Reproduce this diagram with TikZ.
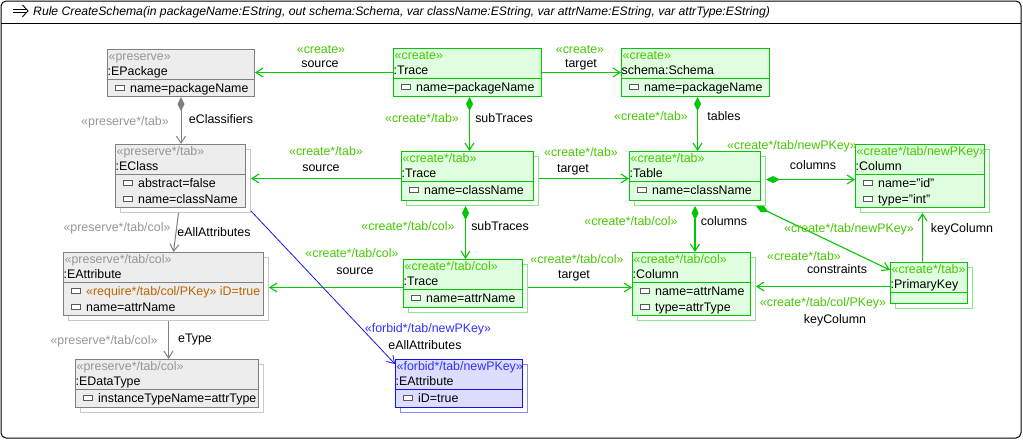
\documentclass[tikz,border=0pt]{standalone}
\usepackage{fontspec}
\setmainfont{Liberation Sans}
\usetikzlibrary{arrows.meta,calc}
\definecolor{gD}{RGB}{0,200,0}
\definecolor{gT}{RGB}{70,200,0}
\definecolor{gF}{RGB}{224,255,224}
\definecolor{gS}{RGB}{140,228,140}
\definecolor{yD}{RGB}{128,128,128}
\definecolor{yT}{RGB}{150,150,150}
\definecolor{yF}{RGB}{237,237,237}
\definecolor{yS}{RGB}{200,200,200}
\definecolor{bD}{RGB}{20,20,230}
\definecolor{bT}{RGB}{50,50,255}
\definecolor{bF}{RGB}{221,221,255}
\definecolor{bS}{RGB}{140,140,255}
\definecolor{reqT}{RGB}{190,100,0}
\newcommand\ushadow[6]{%
  \node[#2shadow, minimum width=#5pt, minimum height=#6pt, anchor=north west] (#1-sh) at (#3+5,#4+5) {};}
\newcommand\ubox[8]{%
  \node[#2box, minimum width=#5pt, minimum height=#6pt, anchor=north west] (#1) at (#3,#4) {};
  \draw[#2sep] ($(#1.north west)+(0,30)$) -- ($(#1.north east)+(0,30)$);
  \node[#2st] (#1-st) at ($(#1.north west)+(1.5,11.5)$) {#7};
  \node[titletext] (#1-ti) at ($(#1.north west)+(0.5,26)$) {#8};}
\newcommand\uattr[4]{%
  \node[icon] (#3-ic) at ($(#1.north west)+(13,#2-4)$) {};
  \node[attrtext] (#3) at ($(#1.north west)+(23,#2)$) {#4};}
\begin{document}
\begin{tikzpicture}[x=1pt,y=-1pt,
  font=\fontsize{12.4}{14}\selectfont,
  boxbase/.style={rectangle, inner sep=0, line width=1pt},
  gbox/.style={boxbase, draw=gD, fill=gF},
  ybox/.style={boxbase, draw=yD, fill=yF},
  bbox/.style={boxbase, draw=bD, fill=bF},
  gshadow/.style={boxbase, draw=gS, fill=white},
  yshadow/.style={boxbase, draw=yS, fill=white},
  bshadow/.style={boxbase, draw=bS, fill=white},
  gsep/.style={draw=gD, line width=1pt},
  ysep/.style={draw=yD, line width=1pt},
  bsep/.style={draw=bD, line width=1pt},
  txt/.style={inner sep=0, anchor=base west},
  gst/.style={txt, text=gT},
  yst/.style={txt, text=yT},
  bst/.style={txt, text=bT},
  titletext/.style={txt, text=black},
  attrtext/.style={txt, text=black},
  icon/.style={rectangle, draw=black!65, fill=white, line width=0.7pt, minimum width=8.5pt, minimum height=4.5pt, inner sep=0},
  lbl/.style={inner sep=0, anchor=base, text=black},
  glbl/.style={lbl, text=gT},
  ylbl/.style={lbl, text=yT},
  blbl/.style={lbl, text=bT},
  openarrow/.style={-{Straight Barb[length=7pt,width=9pt]}},
  gedge/.style={draw=gD, line width=1.1pt, openarrow},
  gcomp/.style={draw=gD, line width=1.1pt, {Diamond[length=14pt,width=7pt]}-{Straight Barb[length=7pt,width=9pt]}},
  yedge/.style={draw=yD, line width=1pt, openarrow},
  ycomp/.style={draw=yD, line width=1pt, {Diamond[length=14pt,width=7pt]}-{Straight Barb[length=7pt,width=9pt]}},
  bedge/.style={draw=bD, line width=0.8pt, openarrow},
  frame/.style={draw=black, line width=1pt}
]
\useasboundingbox (0,0) rectangle (1023,440);
% frame and header
\draw[frame, rounded corners=5pt] (1,1) rectangle (1021,438);
\draw[frame] (1,23) -- (1021,23);
\draw[line width=0.9pt] (13,9.2) -- (27,9.2) (13,12.6) -- (27,12.6);
\draw[line width=0.9pt] (22.5,5) -- (28,10.9) -- (22.5,16.8);
\node[txt, font=\fontsize{12.2}{14}\selectfont\itshape] (hdr) at (33,15) {Rule CreateSchema(in packageName:EString, out schema:Schema, var className:EString, var attrName:EString, var attrType:EString)};

% boxes
\ubox{epk}{y}{107}{49}{147}{47}{«preserve»}{:EPackage}
\uattr{epk}{43}{epk1}{name=packageName}

\ushadow{ecl}{y}{115}{144}{130}{63}
\ubox{ecl}{y}{115}{144}{130}{63}{«preserve*/tab»}{:EClass}
\uattr{ecl}{43}{ecl1}{abstract=false}
\uattr{ecl}{59}{ecl2}{name=className}

\ushadow{eat}{y}{63}{252}{200}{63}
\ubox{eat}{y}{63}{252}{200}{63}{«preserve*/tab/col»}{:EAttribute}
\uattr{eat}{43}{eat1}{\textcolor{reqT}{«require*/tab/col/PKey» iD=true}}
\uattr{eat}{59}{eat2}{name=attrName}

\ushadow{edt}{y}{75}{359}{183}{48}
\ubox{edt}{y}{75}{359}{183}{48}{«preserve*/tab/col»}{:EDataType}
\uattr{edt}{43}{edt1}{instanceTypeName=attrType}

\ubox{tr1}{g}{393}{48}{148}{48}{«create»}{:Trace}
\uattr{tr1}{43}{tr11}{name=packageName}

\ubox{sch}{g}{621}{48}{148}{48}{«create»}{schema:Schema}
\uattr{sch}{43}{sch1}{name=packageName}

\ushadow{tr2}{g}{401}{151}{132}{49}
\ubox{tr2}{g}{401}{151}{132}{49}{«create*/tab»}{:Trace}
\uattr{tr2}{43}{tr21}{name=className}

\ushadow{tab}{g}{629}{151}{131}{49}
\ubox{tab}{g}{629}{151}{131}{49}{«create*/tab»}{:Table}
\uattr{tab}{43}{tab1}{name=className}

\ushadow{cid}{g}{855}{144}{129}{63}
\ubox{cid}{g}{855}{144}{129}{63}{«create*/tab/newPKey»}{:Column}
\uattr{cid}{43}{cid1}{name="id"}
\uattr{cid}{59}{cid2}{type="int"}

\ushadow{pk}{g}{890}{262}{77}{41}
\ubox{pk}{g}{890}{262}{77}{41}{«create*/tab»}{:PrimaryKey}

\ushadow{tr3}{g}{403}{259}{119}{48}
\ubox{tr3}{g}{403}{259}{119}{48}{«create*/tab/col»}{:Trace}
\uattr{tr3}{43}{tr31}{name=attrName}

\ushadow{col}{g}{632}{252}{118}{63}
\ubox{col}{g}{632}{252}{118}{63}{«create*/tab/col»}{:Column}
\uattr{col}{43}{col1}{name=attrName}
\uattr{col}{59}{col2}{type=attrType}

\ushadow{fea}{b}{395}{359}{127}{48}
\ubox{fea}{b}{395}{359}{127}{48}{«forbid*/tab/newPKey»}{:EAttribute}
\uattr{fea}{43}{fea1}{iD=true}

% edges
\draw[gedge] (tr1.west) -- (tr1.west -| epk.east);
\draw[gedge] (tr1.east) -- (tr1.east -| sch.west);
\draw[gcomp] ($(tr1.south)+(2,0)$) coordinate (c1) -- (c1 |- tr2.north);
\draw[gcomp] ($(sch.south)+(2,0)$) coordinate (c2) -- (c2 |- tab.north);
\draw[gedge] ($(tr2.west)+(0,2.5)$) coordinate (c3) -- (c3 -| ecl-sh.east);
\draw[gedge] ($(tr2-sh.east)+(0,-2.5)$) coordinate (c4) -- (c4 -| tab.west);
\draw[gcomp] ($(tab-sh.east)+(0,-1.5)$) coordinate (c5) -- (c5 -| cid.west);
\draw[gcomp] (tab.south |- tab-sh.south) -- (tab.south |- col.north);
\draw[gcomp] ($(tab-sh.south east)+(-10,0)$) -- ($(pk.north west)+(0,8)$);
\draw[gedge] ($(pk.north)+(-6.5,0)$) coordinate (c6) -- (c6 |- cid-sh.south);
\draw[gedge] ($(pk.west)+(0,3.5)$) coordinate (c7) -- (c7 -| col-sh.east);
\draw[gedge] ($(tr3.west)+(0,4)$) coordinate (c8) -- (c8 -| eat-sh.east);
\draw[gedge] ($(tr3-sh.east)+(0,-1)$) coordinate (c9) -- (c9 -| col.west);
\draw[gcomp] ($(tr2.south |- tr2-sh.south)+(-2,0)$) coordinate (c10) -- (c10 |- tr3.north);
\draw[ycomp] (epk.south) -- (epk.south |- ecl.north);
\draw[yedge] ($(ecl-sh.south)+(-7,0)$) -- ($(eat.north)+(10,0)$);
\draw[yedge] (eat-sh.south) -- (eat-sh.south |- edt.north);
\draw[bedge] ($(ecl-sh.south east)+(0,-2)$) -- ($(fea.north west)+(0,5)$);

% edge labels
\node[glbl] (l1a) at (321,53) {«create»};
\node[lbl]  (l1b) at (320,67) {source};
\node[glbl] (l2a) at (580,53) {«create»};
\node[lbl]  (l2b) at (581,67) {target};
\node[glbl] (l3a) at (422,122) {«create*/tab»};
\node[lbl]  (l3b) at (504,122) {subTraces};
\node[glbl] (l4a) at (651,120) {«create*/tab»};
\node[lbl]  (l4b) at (724,120) {tables};
\node[glbl] (l5a) at (326,155) {«create*/tab»};
\node[lbl]  (l5b) at (321,171) {source};
\node[glbl] (l6a) at (581,156) {«create*/tab»};
\node[lbl]  (l6b) at (573,172) {target};
\node[glbl] (l7a) at (792,149) {«create*/tab/newPKey»};
\node[lbl]  (l7b) at (813,169) {columns};
\node[glbl] (l8a) at (631,225) {«create*/tab/col»};
\node[lbl]  (l8b) at (724,225) {columns};
\node[glbl] (l9a) at (849,232) {«create*/tab/newPKey»};
\node[glbl] (l9b) at (804,260) {«create*/tab»};
\node[lbl]  (l9c) at (837,273) {constraints};
\node[lbl]  (l10) at (962,232) {keyColumn};
\node[glbl] (l11a) at (823,306) {«create*/tab/col/PKey»};
\node[lbl]  (l11b) at (835,323) {keyColumn};
\node[glbl] (l12a) at (352,257) {«create*/tab/col»};
\node[lbl]  (l12b) at (355,274) {source};
\node[glbl] (l13a) at (577,263) {«create*/tab/col»};
\node[lbl]  (l13b) at (574,278) {target};
\node[glbl] (l14a) at (408,230) {«create*/tab/col»};
\node[lbl]  (l14b) at (500,230) {subTraces};
\node[ylbl] (l15a) at (125,125) {«preserve*/tab»};
\node[lbl]  (l15b) at (221,123) {eClassifiers};
\node[ylbl] (l16a) at (117,231) {«preserve*/tab/col»};
\node[lbl]  (l16b) at (214,236) {eAllAttributes};
\node[ylbl] (l17a) at (104,344) {«preserve*/tab/col»};
\node[lbl]  (l17b) at (195,342) {eType};
\node[blbl] (l18a) at (428,332) {«forbid*/tab/newPKey»};
\node[lbl]  (l18b) at (425,349) {eAllAttributes};
\end{tikzpicture}
\end{document}
